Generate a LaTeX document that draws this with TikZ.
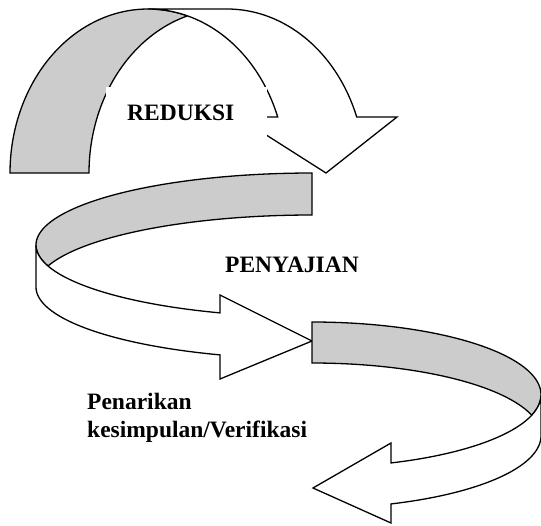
\documentclass[tikz,border=0pt]{standalone}
\usepackage{fontspec}
\setmainfont{Liberation Serif}
\definecolor{ribbon}{RGB}{204,204,204}
\begin{document}
\begin{tikzpicture}[x=1pt,y=-1pt,
  back/.style={fill=ribbon,draw=black,line width=1.3pt,line join=miter},
  front/.style={fill=white,draw=black,line width=1.3pt,line join=miter},
  label/.style={font=\fontsize{23.5}{28}\selectfont\bfseries,inner sep=0pt,anchor=base west}]
\useasboundingbox (0,0) rectangle (541,525);
% ---- top arrow (curved down)
\filldraw[back] plot[domain=180:286.6,samples=80] ({148+138*cos(\x)},{173+164*sin(\x)})
  -- plot[domain=253.4:180,samples=80] ({227+138*cos(\x)},{173+164*sin(\x)}) -- cycle;
\filldraw[front] plot[domain=270:340.03,samples=80] ({148+138*cos(\x)},{173+164*sin(\x)})
  -- (238,117) -- (326,173) -- (397,117)
  -- plot[domain=340.03:270,samples=80] ({227+138*cos(\x)},{173+164*sin(\x)}) -- cycle;
% ---- middle arrow (curved right)
\filldraw[back] plot[domain=270:163.04,samples=80] ({312+276*cos(\x)},{245+72*sin(\x)})
  -- plot[domain=196.96:270,samples=80] ({312+276*cos(\x)},{287+72*sin(\x)}) -- cycle;
\filldraw[front] plot[domain=180:109.47,samples=80] ({312+276*cos(\x)},{245+72*sin(\x)})
  -- (220,295) -- (312,341) -- (220,379)
  -- plot[domain=109.47:180,samples=80] ({312+276*cos(\x)},{287+72*sin(\x)}) -- cycle;
% ---- bottom arrow (curved left)
\filldraw[back] plot[domain=270:376.38,samples=80] ({312+229*cos(\x)},{394.7+72.7*sin(\x)})
  -- plot[domain=343.62:270,samples=80] ({312+229*cos(\x)},{435.7+72.7*sin(\x)}) -- cycle;
\filldraw[front] plot[domain=0:69.82,samples=80] ({312+229*cos(\x)},{394.7+72.7*sin(\x)})
  -- (391,443) -- (313,488) -- (391,523)
  -- plot[domain=69.82:0,samples=80] ({312+229*cos(\x)},{435.7+72.7*sin(\x)}) -- cycle;
% ---- texts
\node[fill=white,inner sep=0pt,minimum width=161pt,minimum height=53pt,anchor=north west] (redbox) at (106,87) {};
\node[label] (reduksi) at (127,120.7) {REDUKSI};
\node[label] (penyajian) at (225,272) {PENYAJIAN};
\node[label] (penarikan) at (87,409) {Penarikan};
\node[label] (kesimpulan) at (87,437) {kesimpulan/Verifikasi};
\end{tikzpicture}
\end{document}
